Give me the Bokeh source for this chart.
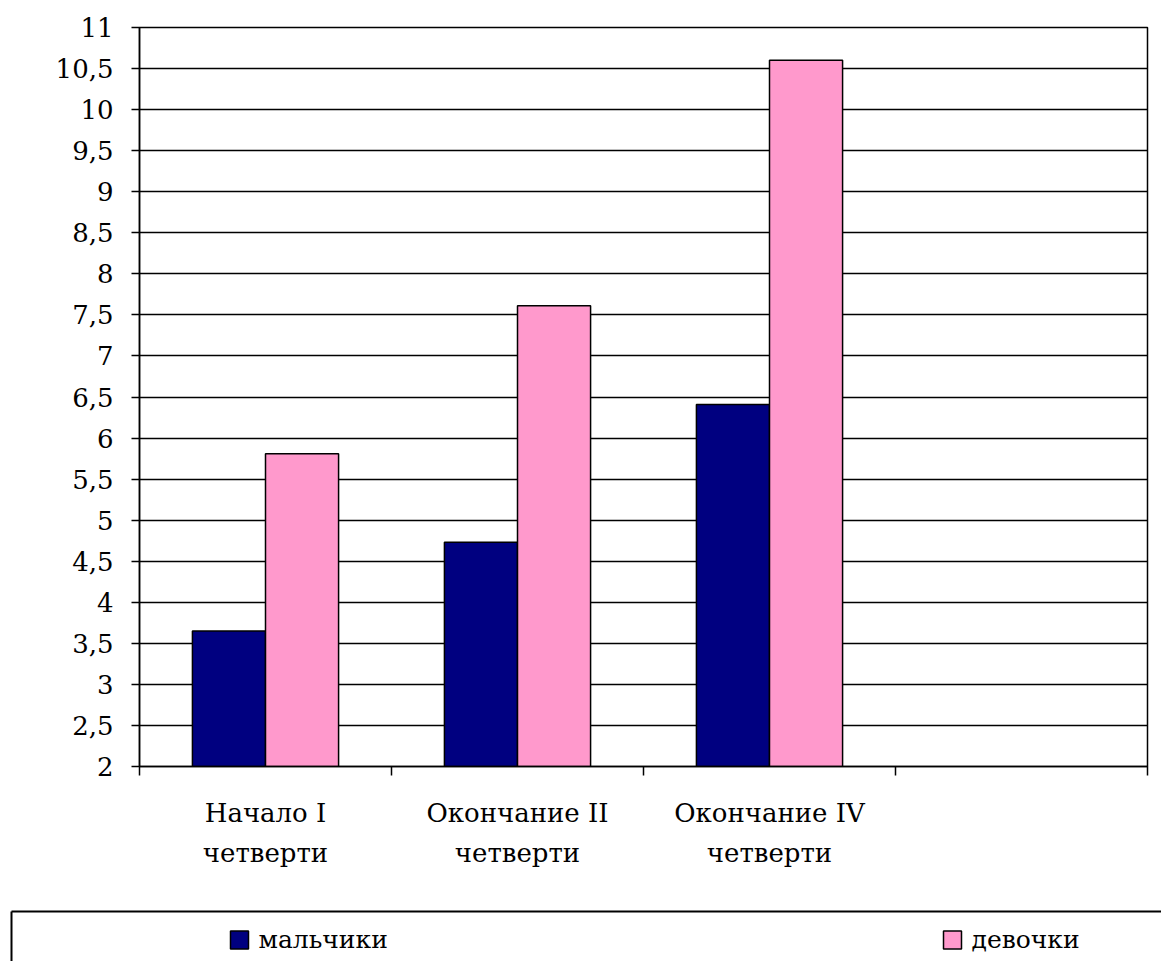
from bokeh.plotting import figure
from bokeh.models import FixedTicker, Range1d
from bokeh.layouts import column
from bokeh.core.properties import value
from bokeh.embed import file_html
from bokeh.resources import INLINE

# ---- data ----
categories = ["Начало I\nчетверти", "Окончание II\nчетверти", "Окончание IV\nчетверти", ""]
series_names = ["мальчики", "девочки"]
boys = [3.65, 4.73, 6.41]
girls = [5.81, 7.61, 10.6]
y_ticks = [2, 2.5, 3, 3.5, 4, 4.5, 5, 5.5, 6, 6.5, 7, 7.5, 8, 8.5, 9, 9.5, 10, 10.5, 11]
y_tick_labels = ["2", "2,5", "3", "3,5", "4", "4,5", "5", "5,5", "6", "6,5", "7",
                 "7,5", "8", "8,5", "9", "9,5", "10", "10,5", "11"]

FONT = "DejaVu Serif"
BOY_COLOR = "#000080"
GIRL_COLOR = "#FF99CC"
SERIES_COLORS = [BOY_COLOR, GIRL_COLOR]
BAR_W = 0.29

W = 1161
MAIN_H = 905
LEG_H = 56

n = len(categories)
centers = [i + 0.5 for i in range(n)]
boy_x = [centers[i] - BAR_W / 2 for i in range(len(boys))]
girl_x = [centers[i] + BAR_W / 2 for i in range(len(girls))]

p = figure(width=W, height=MAIN_H, output_backend="svg", toolbar_location=None,
           x_range=Range1d(0, n), y_range=Range1d(y_ticks[0], y_ticks[-1]),
           min_border_left=139, min_border_right=14, min_border_top=27,
           min_border_bottom=MAIN_H - 766)
p.frame_align = False
p.background_fill_color = "white"
p.border_fill_color = "white"
p.outline_line_color = "black"
p.outline_line_width = 1.5

p.vbar(x=boy_x, top=boys, bottom=y_ticks[0], width=BAR_W,
       fill_color=BOY_COLOR, line_color="black", line_width=1.5)
p.vbar(x=girl_x, top=girls, bottom=y_ticks[0], width=BAR_W,
       fill_color=GIRL_COLOR, line_color="black", line_width=1.5)

# y axis
yt = FixedTicker(ticks=y_ticks)
p.yaxis.ticker = yt
p.yaxis.major_label_overrides = {float(t): l for t, l in zip(y_ticks, y_tick_labels)}
p.yaxis.axis_line_color = "black"
p.yaxis.axis_line_width = 1.5
p.yaxis.major_tick_line_color = "black"
p.yaxis.major_tick_line_width = 1.5
p.yaxis.major_tick_out = 8
p.yaxis.major_tick_in = 0
p.yaxis.minor_tick_line_color = None
p.yaxis.major_label_standoff = 18
p.yaxis.major_label_text_font = FONT
p.yaxis.major_label_text_font_size = "26px"
p.yaxis.major_label_text_color = "black"

# x axis
xt = FixedTicker(ticks=centers, minor_ticks=list(range(n + 1)))
p.xaxis.ticker = xt
p.xaxis.major_label_overrides = {float(c): lab for c, lab in zip(centers, categories)}
p.xaxis.axis_line_color = "black"
p.xaxis.axis_line_width = 1.5
p.xaxis.major_tick_line_color = None
p.xaxis.major_tick_out = 0
p.xaxis.major_tick_in = 0
p.xaxis.minor_tick_line_color = "black"
p.xaxis.minor_tick_line_width = 1.5
p.xaxis.minor_tick_out = 9
p.xaxis.minor_tick_in = 0
p.xaxis.major_label_standoff = 22
p.xaxis.major_label_text_font = FONT
p.xaxis.major_label_text_font_size = "26px"
p.xaxis.major_label_text_line_height = 1.35
p.xaxis.major_label_text_color = "black"

# grid
p.xgrid.visible = False
p.ygrid.ticker = yt
p.ygrid.grid_line_color = "black"
p.ygrid.grid_line_width = 1.4

# ---- legend strip (pixel-space figure) ----
lg = figure(width=W, height=LEG_H, output_backend="svg", toolbar_location=None,
            x_range=Range1d(0, W), y_range=Range1d(0, LEG_H),
            min_border=0, min_border_left=0, min_border_right=0,
            min_border_top=0, min_border_bottom=0)
lg.frame_align = False
lg.axis.visible = False
lg.grid.visible = False
lg.outline_line_color = None
lg.background_fill_color = "white"
lg.border_fill_color = "white"

# legend box (open to the right and bottom like the reference); y measured from strip bottom
box_left, box_top = 11, LEG_H - 6
lg.multi_line(xs=[[box_left, W + 10], [box_left, box_left]],
              ys=[[box_top, box_top], [box_top, -10]],
              line_color="black", line_width=2)

key_x = [239, 952]
key_y = LEG_H - 34.5
lg.rect(x=key_x, y=[key_y] * 2, width=18, height=18,
        fill_color=SERIES_COLORS, line_color="black", line_width=1.5)
lg.text(x=[kx + 19 for kx in key_x], y=[key_y + 1] * 2, text=series_names,
        text_font=value(FONT), text_font_size="25px", text_color="black",
        text_baseline="middle", text_align="left")

layout = column(p, lg, spacing=0)
open("out.html", "w").write(file_html(layout, INLINE))
